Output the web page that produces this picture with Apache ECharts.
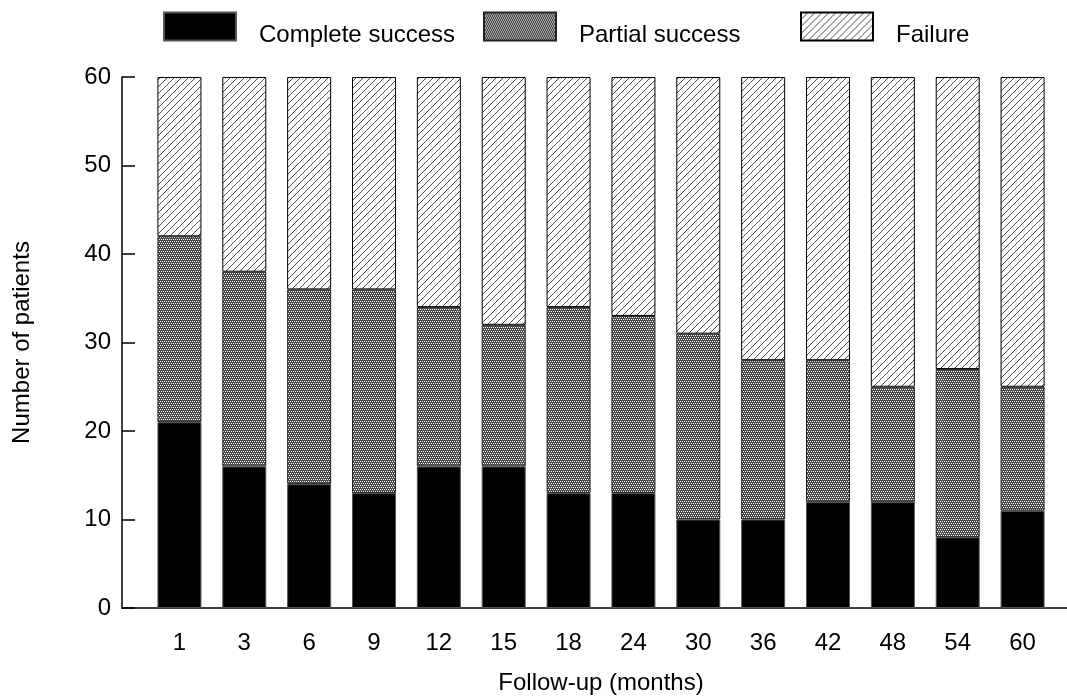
<!DOCTYPE html>
<html lang="en">
<head>
    <meta charset="UTF-8">
    <title>Follow-up outcome</title>
    <script src="https://cdn.jsdelivr.net/npm/echarts@6/dist/echarts.min.js"></script>
    <style>
        body { margin: 0; background: #fff; }
        #chart { width: 1067px; height: 697px; }
    </style>
</head>
<body>
    <div id="chart"></div>
    <script>
        const months = ['1', '3', '6', '9', '12', '15', '18', '24', '30', '36', '42', '48', '54', '60'];
        const completeSuccess = [21, 16, 14, 13, 16, 16, 13, 13, 10, 10, 12, 12, 8, 11];
        const partialSuccess = [21, 22, 22, 23, 18, 16, 21, 20, 21, 18, 16, 13, 19, 14];
        const failure = [18, 22, 24, 24, 26, 28, 26, 27, 29, 32, 32, 35, 33, 35];

        const font = 'Liberation Sans, Arial, sans-serif';
        const txt = { fontFamily: font, fontSize: 24, color: '#000' };

        // fine grey screen pattern for partial success
        function screenPattern() {
            const c = document.createElement('canvas');
            c.width = 4; c.height = 4;
            const ctx = c.getContext('2d');
            ctx.fillStyle = '#fff';
            ctx.fillRect(0, 0, 4, 4);
            ctx.fillStyle = '#4a4a4a';
            ctx.fillRect(0, 0, 4, 1);
            ctx.fillRect(1, 1, 1, 1);
            ctx.fillRect(3, 1, 1, 1);
            ctx.fillRect(0, 2, 4, 1);
            ctx.fillRect(0, 3, 1, 1);
            ctx.fillRect(2, 3, 1, 1);
            return c;
        }

        // "/" hatching for failure
        function hatchPattern() {
            const s = 7;
            const c = document.createElement('canvas');
            c.width = s; c.height = s;
            const ctx = c.getContext('2d');
            ctx.fillStyle = '#fff';
            ctx.fillRect(0, 0, s, s);
            ctx.strokeStyle = '#333';
            ctx.lineWidth = 0.9;
            ctx.beginPath();
            ctx.moveTo(-1, s + 1); ctx.lineTo(s + 1, -1);
            ctx.moveTo(-1, 1); ctx.lineTo(1, -1);
            ctx.moveTo(s - 1, s + 1); ctx.lineTo(s + 1, s - 1);
            ctx.stroke();
            return c;
        }

        const chart = echarts.init(document.getElementById('chart'));

        // text sits a little lower than the swatch in the original:
        // an empty first line pushes it down half a line
        const legendBase = {
            top: 1,
            itemWidth: 72,
            itemHeight: 28,
            icon: 'rect',
            formatter: name => '\n' + name,
            textStyle: Object.assign({ padding: [0, 0, 0, 18], lineHeight: 17 }, txt)
        };

        chart.setOption({
            animation: false,
            legend: [
                Object.assign({ left: 158, data: ['Complete success'] }, legendBase),
                Object.assign({ left: 478, data: ['Partial success'] }, legendBase),
                Object.assign({ left: 795, data: ['Failure'] }, legendBase)
            ],
            // grid 0 holds the bars, grid 1 only draws the frame axes
            grid: [
                { left: 147, right: 12, top: 77, bottom: 89, outerBoundsMode: 'none' },
                { left: 122, right: 0, top: 77, bottom: 89, outerBoundsMode: 'none' }
            ],
            xAxis: [
                {
                    type: 'category',
                    gridIndex: 0,
                    data: months,
                    axisLine: { show: false },
                    axisTick: { show: false },
                    axisLabel: Object.assign({ margin: 23, interval: 0 }, txt),
                    name: 'Follow-up (months)',
                    nameLocation: 'middle',
                    nameGap: 63,
                    nameTextStyle: txt
                },
                {
                    type: 'value',
                    gridIndex: 1,
                    min: 0,
                    max: 1,
                    axisLine: { show: true, onZero: false, lineStyle: { color: '#000', width: 1.5 } },
                    axisTick: { show: false },
                    axisLabel: { show: false },
                    splitLine: { show: false }
                }
            ],
            yAxis: [
                {
                    type: 'value',
                    gridIndex: 0,
                    min: 0,
                    max: 60,
                    show: false
                },
                {
                    type: 'value',
                    gridIndex: 1,
                    min: 0,
                    max: 60,
                    interval: 10,
                    name: 'Number of patients',
                    nameLocation: 'middle',
                    nameGap: 88,
                    nameTextStyle: txt,
                    axisLine: { show: true, onZero: false, lineStyle: { color: '#000', width: 1.5 } },
                    axisTick: { show: true, inside: true, length: 13, lineStyle: { color: '#000', width: 1.5 } },
                    splitLine: { show: false },
                    axisLabel: Object.assign({ margin: 11 }, txt)
                }
            ],
            series: [
                {
                    name: 'Complete success',
                    type: 'bar',
                    stack: 'total',
                    barWidth: 44,
                    data: completeSuccess,
                    itemStyle: { color: '#000', borderColor: '#555', borderWidth: 1 }
                },
                {
                    name: 'Partial success',
                    type: 'bar',
                    stack: 'total',
                    barWidth: 44,
                    data: partialSuccess,
                    itemStyle: { color: { image: screenPattern(), repeat: 'repeat' }, borderColor: '#222', borderWidth: 1 }
                },
                {
                    name: 'Failure',
                    type: 'bar',
                    stack: 'total',
                    barWidth: 44,
                    data: failure,
                    itemStyle: { color: { image: hatchPattern(), repeat: 'repeat' }, borderColor: '#000', borderWidth: 1 }
                }
            ]
        });
    </script>
</body>
</html>
